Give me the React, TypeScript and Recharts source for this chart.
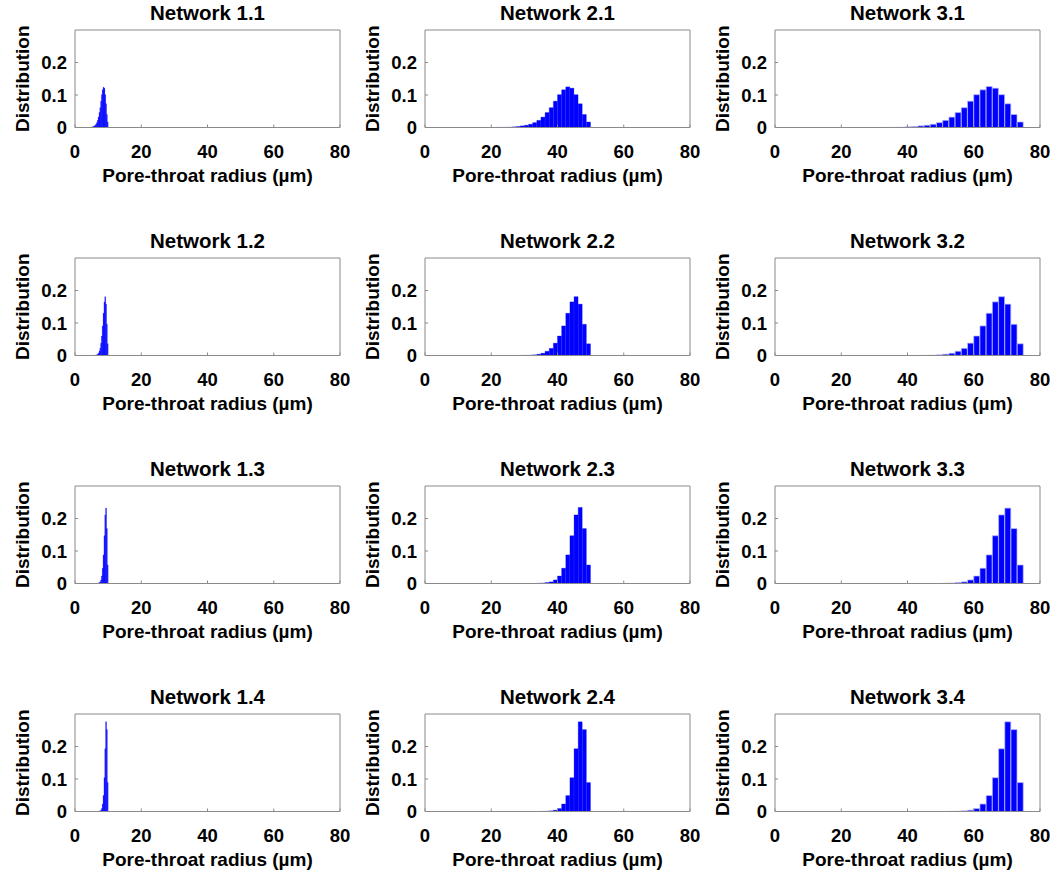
import React from "react";
import { Bar, ComposedChart, XAxis, YAxis } from "recharts";

// Histograms of pore-throat radius, 4 rows x 3 columns.
// Each column uses 40 equal bins from 0 to its largest radius.
const COLUMN_MAX_RADIUS = [10, 50, 75];
const BIN_COUNT = 40;
const X_TICKS = [0, 20, 40, 60, 80];
const Y_TICKS = [0, 0.1, 0.2];

const FONT = "'Liberation Sans', Arial, sans-serif";
const AXIS_GREY = "#8a8a8a";

// first = index of the first bin listed, heights = probability per bin
const net11 = { first: 17, heights: [0.0003, 0.0004, 0.0006, 0.001, 0.002, 0.003, 0.005, 0.007, 0.01, 0.015, 0.022, 0.032, 0.046, 0.061, 0.081, 0.101, 0.116, 0.124, 0.121, 0.101, 0.073, 0.04, 0.017] };
const net12 = { first: 23, heights: [0.0003, 0.0006, 0.001, 0.002, 0.004, 0.007, 0.013, 0.022, 0.038, 0.06, 0.091, 0.13, 0.165, 0.181, 0.158, 0.096, 0.036] };
const net13 = { first: 27, heights: [0.0008, 0.0015, 0.003, 0.005, 0.011, 0.023, 0.047, 0.088, 0.147, 0.211, 0.232, 0.169, 0.057] };
const net14 = { first: 28, heights: [0.0005, 0.001, 0.002, 0.004, 0.009, 0.023, 0.049, 0.104, 0.193, 0.276, 0.252, 0.089] };

const net21 = { first: 17, heights: [0.0003, 0.0004, 0.0006, 0.001, 0.002, 0.003, 0.005, 0.007, 0.01, 0.015, 0.022, 0.032, 0.046, 0.061, 0.081, 0.101, 0.116, 0.125, 0.121, 0.101, 0.073, 0.04, 0.017] };
const net22 = { first: 23, heights: [0.0003, 0.0006, 0.001, 0.002, 0.004, 0.007, 0.013, 0.022, 0.038, 0.06, 0.091, 0.13, 0.165, 0.181, 0.158, 0.096, 0.036] };
const net23 = { first: 27, heights: [0.0008, 0.0015, 0.003, 0.005, 0.011, 0.023, 0.047, 0.088, 0.147, 0.211, 0.234, 0.169, 0.057] };
const net24 = { first: 28, heights: [0.0005, 0.001, 0.002, 0.004, 0.009, 0.023, 0.049, 0.104, 0.193, 0.276, 0.252, 0.089] };

const net31 = { first: 17, heights: [0.0003, 0.0004, 0.0006, 0.001, 0.002, 0.003, 0.005, 0.007, 0.01, 0.015, 0.022, 0.032, 0.046, 0.061, 0.081, 0.101, 0.116, 0.126, 0.121, 0.101, 0.073, 0.04, 0.017] };
const net32 = { first: 23, heights: [0.0003, 0.0006, 0.001, 0.002, 0.004, 0.007, 0.013, 0.022, 0.038, 0.06, 0.091, 0.13, 0.165, 0.181, 0.158, 0.096, 0.036] };
const net33 = { first: 27, heights: [0.0008, 0.0015, 0.003, 0.005, 0.011, 0.023, 0.047, 0.088, 0.147, 0.211, 0.232, 0.169, 0.057] };
const net34 = { first: 28, heights: [0.0005, 0.001, 0.002, 0.004, 0.009, 0.023, 0.049, 0.104, 0.193, 0.276, 0.252, 0.089] };

const panels = [
  { title: "Network 1.1", row: 0, col: 0, hist: net11 },
  { title: "Network 2.1", row: 0, col: 1, hist: net21 },
  { title: "Network 3.1", row: 0, col: 2, hist: net31 },
  { title: "Network 1.2", row: 1, col: 0, hist: net12 },
  { title: "Network 2.2", row: 1, col: 1, hist: net22 },
  { title: "Network 3.2", row: 1, col: 2, hist: net32 },
  { title: "Network 1.3", row: 2, col: 0, hist: net13 },
  { title: "Network 2.3", row: 2, col: 1, hist: net23 },
  { title: "Network 3.3", row: 2, col: 2, hist: net33 },
  { title: "Network 1.4", row: 3, col: 0, hist: net14 },
  { title: "Network 2.4", row: 3, col: 1, hist: net24 },
  { title: "Network 3.4", row: 3, col: 2, hist: net34 },
];

const CELL_W = 350;
const CELL_H = 228;
const PLOT_LEFT = 75;
const PLOT_W = 265;
const PLOT_TOP = 30;

const tickStyle = { fill: "#000", fontSize: 18.5, fontWeight: "bold", fontFamily: FONT };

function yLabel(props: any) {
  const vb = props.viewBox;
  const x = vb.x + 7;
  const y = vb.y + vb.height / 2;
  return (
    <text
      x={x}
      y={y}
      transform={`rotate(-90, ${x}, ${y})`}
      textAnchor="middle"
      dominantBaseline="central"
      fill="#000"
      fontSize={19}
      fontWeight="bold"
      fontFamily={FONT}
    >
      Distribution
    </text>
  );
}

function Panel({ title, row, col, hist }: any) {
  const w = COLUMN_MAX_RADIUS[col] / BIN_COUNT;
  const data = hist.heights.map((p: number, i: number) => ({
    r: (hist.first + i + 0.5) * w,
    p,
  }));
  const wide = col === 2;

  return (
    <div style={{ position: "absolute", left: col * CELL_W, top: row * CELL_H, width: CELL_W, height: CELL_H }}>
      <div
        style={{
          position: "absolute",
          left: PLOT_LEFT,
          width: PLOT_W,
          top: 1,
          textAlign: "center",
          fontFamily: FONT,
          fontWeight: "bold",
          fontSize: 20.5,
          lineHeight: "24px",
          color: "#000",
        }}
      >
        {title}
      </div>
      <ComposedChart
        width={CELL_W}
        height={CELL_H}
        data={data}
        margin={{ top: PLOT_TOP - 1, right: CELL_W - PLOT_LEFT - PLOT_W - 1, bottom: 70.5, left: 15 }}
        barCategoryGap={0}
        barGap={0}
      >
        <XAxis
          dataKey="r"
          type="number"
          domain={[0, 80]}
          ticks={X_TICKS}
          height={30}
          stroke={AXIS_GREY}
          tickSize={-3}
          tickMargin={20}
          tick={tickStyle}
          label={{
            value: "Pore-throat radius (µm)",
            position: "bottom",
            offset: 11,
            fill: "#000",
            fontSize: 19,
            fontWeight: "bold",
            fontFamily: FONT,
          }}
        />
        <XAxis
          xAxisId="top"
          orientation="top"
          type="number"
          domain={[0, 80]}
          ticks={X_TICKS}
          height={1}
          stroke={AXIS_GREY}
          tickSize={-3}
          tick={false}
        />
        <YAxis
          type="number"
          domain={[0, 0.3]}
          ticks={Y_TICKS}
          width={60}
          stroke={AXIS_GREY}
          tickSize={-3}
          tickMargin={11}
          tick={tickStyle}
          label={yLabel}
        />
        <YAxis
          yAxisId="right"
          orientation="right"
          type="number"
          domain={[0, 0.3]}
          ticks={Y_TICKS}
          width={1}
          stroke={AXIS_GREY}
          tickSize={-3}
          tick={false}
        />
        <Bar
          dataKey="p"
          fill="#0000ff"
          stroke={wide ? "#b8b8ff" : "#0000ff"}
          strokeWidth={wide ? 0.7 : 0.3}
          isAnimationActive={false}
        />
      </ComposedChart>
    </div>
  );
}

export default function App() {
  return (
    <div
      style={{
        position: "absolute",
        left: 0,
        top: 0,
        width: 1060,
        height: 880,
        background: "#fff",
        overflow: "hidden",
      }}
    >
      {panels.map((p) => (
        <Panel key={p.title} {...p} />
      ))}
    </div>
  );
}
